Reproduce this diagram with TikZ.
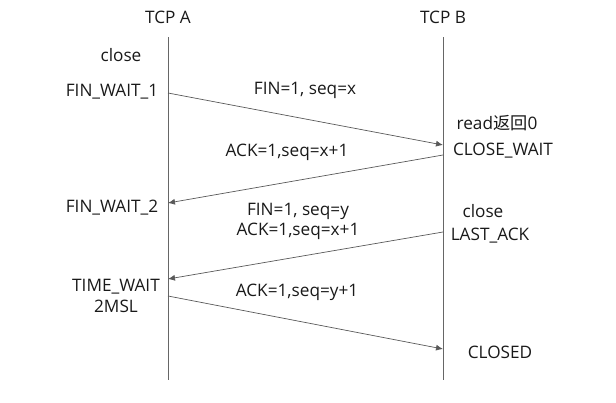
\documentclass[tikz,border=0pt]{standalone}
\usepackage{fontspec}
\setmainfont{Open Sans}
\newfontfamily\cjk{Noto Sans CJK SC}
\usetikzlibrary{arrows.meta}
\begin{document}
\begin{tikzpicture}[x=1pt,y=-1pt,
  lbl/.style={inner sep=0pt,font=\fontsize{17.2}{20}\selectfont,text=black!90},
  life/.style={draw=black!60,line width=0.8pt},
  msg/.style={draw=black!65,line width=0.7pt,-{Latex[length=7pt,width=6pt]}}]
\useasboundingbox (0,0) rectangle (616,402);
% lifelines
\coordinate (atop) at (168,37);
\coordinate (abot) at (168,380);
\coordinate (btop) at (443,37);
\coordinate (bbot) at (443,380);
\draw[life] (atop) -- (abot);
\draw[life] (btop) -- (bbot);
% headers
\node[lbl] (tcpa) at (168,17) {TCP A};
\node[lbl] (tcpb) at (443,17) {TCP B};
% states A
\node[lbl] (close1) at (121,55) {close};
\node[lbl] (fw1) at (112,92) {FIN\_WAIT\_1};
\node[lbl] (fw2) at (112,208) {FIN\_WAIT\_2};
\node[lbl] (tw) at (116,287) {TIME\_WAIT};
\node[lbl] (msl) at (116,306) {2MSL};
% states B
\node[lbl] (read) at (497,123) {read{\cjk 返回}0};
\node[lbl] (cw) at (503,151) {CLOSE\_WAIT};
\node[lbl] (close2) at (483,211) {close};
\node[lbl] (la) at (490,236) {LAST\_ACK};
\node[lbl] (cl) at (500,352) {CLOSED};
% message endpoints
\coordinate (m1s) at (168,93);
\coordinate (m1e) at (443,145);
\coordinate (m2s) at (443,155);
\coordinate (m2e) at (168,203);
\coordinate (m3s) at (443,232);
\coordinate (m3e) at (168,279);
\coordinate (m4s) at (168,296);
\coordinate (m4e) at (443,349);
\draw[msg] (m1s) -- (m1e);
\draw[msg] (m2s) -- (m2e);
\draw[msg] (m3s) -- (m3e);
\draw[msg] (m4s) -- (m4e);
% message labels
\node[lbl] (l1) at (305,90) {FIN=1, seq=x};
\node[lbl] (l2) at (287,152) {ACK=1,seq=x+1};
\node[lbl] (l3a) at (298,211) {FIN=1, seq=y};
\node[lbl] (l3b) at (298,231) {ACK=1,seq=x+1};
\node[lbl] (l4) at (297,292) {ACK=1,seq=y+1};
\end{tikzpicture}
\end{document}
